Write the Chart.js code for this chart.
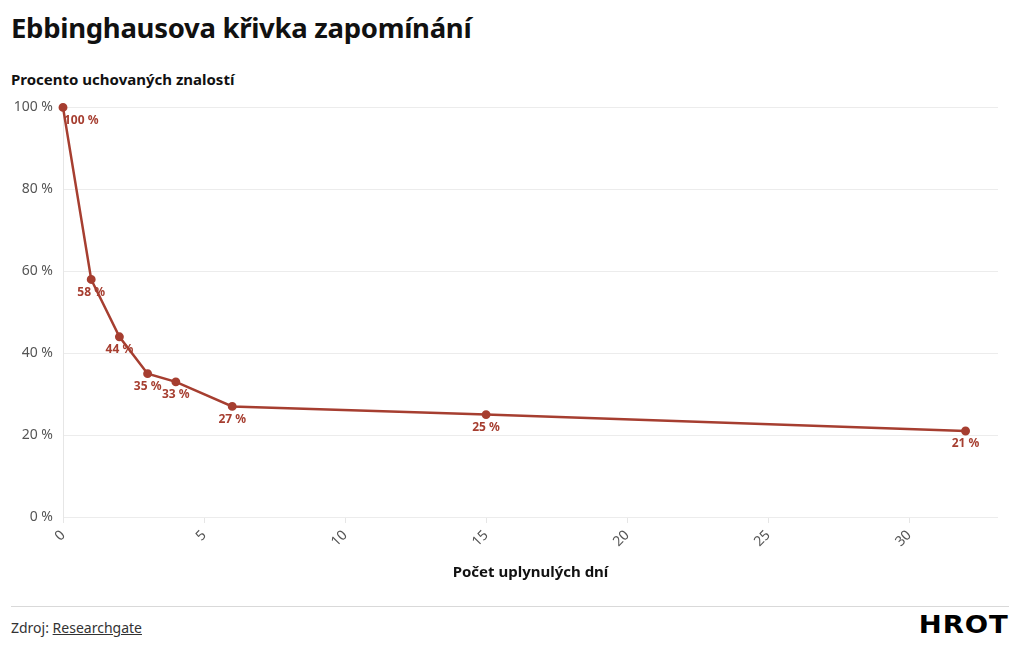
<!DOCTYPE html>
<html lang="cs">
<head>
<meta charset="utf-8">
<script src="https://cdn.jsdelivr.net/npm/chart.js@4"></script>
<style>
  body { margin: 0; background: #fff; font-family: "Noto Sans", sans-serif; width: 1020px; height: 650px; position: relative; overflow: hidden; }
  h1 { position: absolute; left: 11px; top: 9px; margin: 0; font-size: 27.5px; font-weight: 700; color: #111; letter-spacing: -0.3px; }
  .ytitle { position: absolute; left: 11px; top: 69px; font-size: 15px; font-weight: 700; color: #111; }
  #wrap { position: absolute; left: 0; top: 89px; width: 1020px; height: 503px; }
  .rule { position: absolute; left: 11px; top: 606px; width: 998px; height: 1px; background: #d9d9d9; }
  .src { position: absolute; left: 11px; top: 618px; font-size: 14px; color: #333; }
  .src a { color: #333; text-decoration: underline; }
  .logo { position: absolute; right: 11px; top: 610px; font-size: 25px; font-weight: 900; color: #000; letter-spacing: 0.8px; font-family: "DejaVu Sans", sans-serif; transform-origin: right center; transform: scaleX(1.1); }
</style>
</head>
<body>
<h1>Ebbinghausova křivka zapomínání</h1>
<div class="ytitle">Procento uchovaných znalostí</div>
<div id="wrap"><canvas id="c"></canvas></div>
<div class="rule"></div>
<div class="src">Zdroj: <a>Researchgate</a></div>
<div class="logo">HROT</div>
<script>
const dny = [0, 1, 2, 3, 4, 6, 15, 32];
const procenta = [100, 58, 44, 35, 33, 27, 25, 21];
const xTicks = [0, 5, 10, 15, 20, 25, 30];
const yTicks = [0, 20, 40, 60, 80, 100];

const barva = "#a63e30";

// popisky pod body
const popisky = {
  id: "popisky",
  afterDatasetsDraw(chart) {
    const ctx = chart.ctx;
    const meta = chart.getDatasetMeta(0);
    ctx.save();
    ctx.font = "bold 12px 'Noto Sans', sans-serif";
    ctx.fillStyle = barva;
    ctx.textAlign = "center";
    ctx.textBaseline = "middle";
    meta.data.forEach((pt, i) => {
      const txt = procenta[i] + " %";
      const w = ctx.measureText(txt).width;
      let x = pt.x;
      if (x - w / 2 < chart.chartArea.left) x = chart.chartArea.left + w / 2 + 1;
      ctx.fillText(txt, x, pt.y + 13);
    });
    ctx.restore();
  }
};

new Chart(document.getElementById("c"), {
  type: "line",
  data: {
    datasets: [{
      data: dny.map((d, i) => ({ x: d, y: procenta[i] })),
      borderColor: barva,
      backgroundColor: barva,
      borderWidth: 2.5,
      pointRadius: 3.2,
      pointHoverRadius: 4,
      tension: 0,
      clip: false
    }]
  },
  options: {
    responsive: true,
    maintainAspectRatio: false,
    animation: false,
    layout: { padding: { top: 12, right: 22, left: 0, bottom: 0 } },
    plugins: { legend: { display: false }, tooltip: { enabled: false } },
    scales: {
      x: {
        type: "linear",
        min: 0,
        max: 33.15,
        afterBuildTicks: s => { s.ticks = xTicks.map(v => ({ value: v })); },
        afterFit: s => { s.height = 75; },
        ticks: {
          color: "#555",
          font: { size: 14, family: "'Noto Sans', sans-serif" },
          maxRotation: 45,
          minRotation: 45,
          padding: 4
        },
        grid: { drawOnChartArea: false, drawTicks: true, tickLength: 6, color: "#e6e6e6" },
        border: { display: false },
        title: {
          display: true,
          text: "Počet uplynulých dní",
          color: "#111",
          font: { size: 15, weight: "bold", family: "'Noto Sans', sans-serif" },
          padding: { top: 0, bottom: 10 }
        }
      },
      y: {
        min: 0,
        max: 100,
        afterBuildTicks: s => { s.ticks = yTicks.map(v => ({ value: v })); },
        afterFit: s => { s.width = 63; },
        ticks: {
          color: "#555",
          font: { size: 14, family: "'Noto Sans', sans-serif" },
          padding: 10,
          callback: v => v + " %"
        },
        grid: { color: "#ececec", drawTicks: false },
        border: { display: true, color: "#e6e6e6" }
      }
    }
  },
  plugins: [popisky]
});
</script>
</body>
</html>
